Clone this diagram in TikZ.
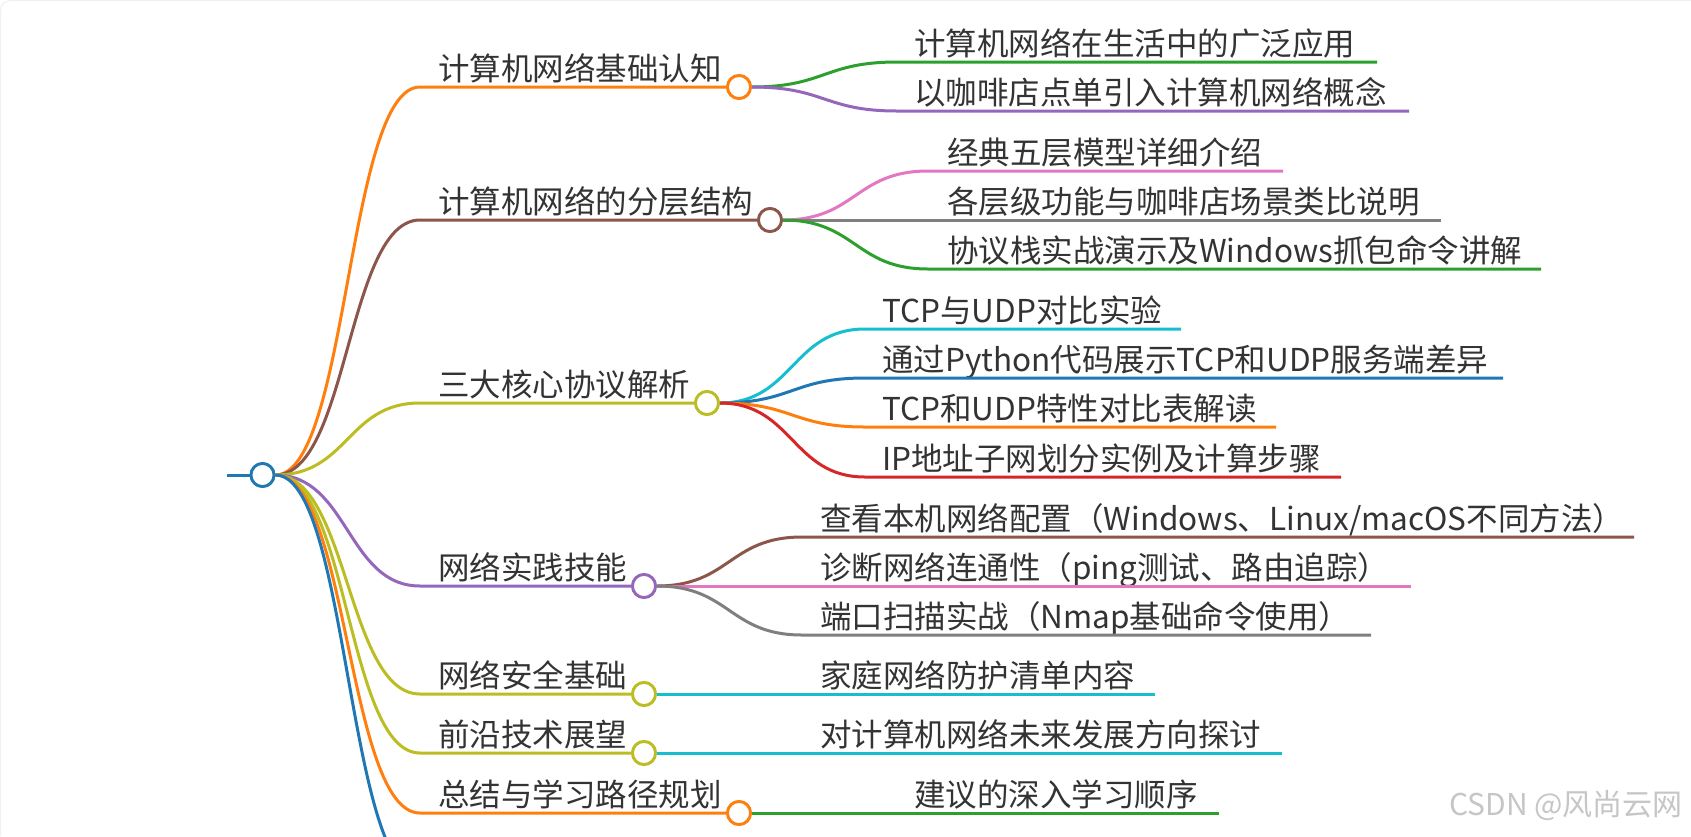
\documentclass[tikz,border=0pt]{standalone}
\usepackage{fontspec}
\setmainfont{Noto Sans CJK SC}
\usepackage{tikz}
\usetikzlibrary{positioning}
\definecolor{mBlue}{HTML}{1F77B4}
\definecolor{mOrange}{HTML}{FF7F0E}
\definecolor{mGreen}{HTML}{2CA02C}
\definecolor{mRed}{HTML}{D62728}
\definecolor{mPurple}{HTML}{9467BD}
\definecolor{mBrown}{HTML}{8C564B}
\definecolor{mPink}{HTML}{E377C2}
\definecolor{mGray}{HTML}{7F7F7F}
\definecolor{mOlive}{HTML}{BCBD22}
\definecolor{mCyan}{HTML}{17BECF}
\definecolor{mText}{HTML}{333333}

\tikzset{
  dot/.style={circle, draw=#1, fill=white, line width=2.8pt, minimum size=23pt, inner sep=0pt},
  branch/.style={draw=#1, line width=3pt},
  link/.style={out=0, in=180, distance=73pt},
  topic/.style={anchor=base west, inner sep=0pt, text=mText, font=\fontsize{31.5}{36}\selectfont},
}

\begin{document}
\begin{tikzpicture}[x=1pt, y=-1pt]
    \useasboundingbox (0,0) rectangle (1691,836);
    \fill[white] (0,0) rectangle (1691,836);
    \clip (0,0) rectangle (1691,836);
    \draw[gray!12, line width=1pt, rounded corners=10pt] (0.5,836) |- (1691,0.5);
    % --- root ---
    \node[dot=mBlue] (root) at (262.5,475) {};
    \coordinate (root-in) at (227,475);
    \draw[branch=mBlue] (root-in) -- (root.west);
    % --- level 1: topics ---
    \coordinate (basic-s) at (420,87);
    \node[dot=mOrange] (basic) at (739,87) {};
    \node[above right=7pt and 18pt of basic-s, topic] {计算机网络基础认知};
    \coordinate (layer-s) at (420,220);
    \node[dot=mBrown] (layer) at (770,220) {};
    \node[above right=7pt and 18pt of layer-s, topic] {计算机网络的分层结构};
    \coordinate (proto-s) at (420,403);
    \node[dot=mOlive] (proto) at (707,403) {};
    \node[above right=7pt and 18pt of proto-s, topic] {三大核心协议解析};
    \coordinate (practice-s) at (420,586);
    \node[dot=mPurple] (practice) at (644,586) {};
    \node[above right=7pt and 18pt of practice-s, topic] {网络实践技能};
    \coordinate (secure-s) at (420,694);
    \node[dot=mOlive] (secure) at (644,694) {};
    \node[above right=7pt and 18pt of secure-s, topic] {网络安全基础};
    \coordinate (future-s) at (420,753);
    \node[dot=mOlive] (future) at (644,753) {};
    \node[above right=7pt and 18pt of future-s, topic] {前沿技术展望};
    \coordinate (summary-s) at (420,813);
    \node[dot=mOrange] (summary) at (739,813) {};
    \node[above right=7pt and 18pt of summary-s, topic] {总结与学习路径规划};
    \coordinate (more-s) at (420,876);
    % --- root links ---
    \draw[branch=mOrange] (root.east) to[link] (basic-s) -- (basic.west);
    \draw[branch=mBrown] (root.east) to[link] (layer-s) -- (layer.west);
    \draw[branch=mOlive] (root.east) to[link] (proto-s) -- (proto.west);
    \draw[branch=mPurple] (root.east) to[link] (practice-s) -- (practice.west);
    \draw[branch=mOlive] (root.east) to[link] (secure-s) -- (secure.west);
    \draw[branch=mOlive] (root.east) to[link] (future-s) -- (future.west);
    \draw[branch=mOrange] (root.east) to[link] (summary-s) -- (summary.west);
    \draw[branch=mBlue] (root.east) to[link] (more-s);
    % --- basic: leaves ---
    \coordinate (basic-a) at (897,62);   \coordinate (basic-a-e) at (1377,62);
    \coordinate (basic-b) at (897,111);  \coordinate (basic-b-e) at (1409,111);
    \node[above right=7pt and 17pt of basic-a, topic] {计算机网络在生活中的广泛应用};
    \node[above right=7pt and 17pt of basic-b, topic] {以咖啡店点单引入计算机网络概念};
    \draw[branch=mGreen] (basic.east) to[link] (basic-a) -- (basic-a-e);
    \draw[branch=mPurple] (basic.east) to[link] (basic-b) -- (basic-b-e);
    % --- layer: leaves ---
    \coordinate (layer-a) at (928,171);  \coordinate (layer-a-e) at (1283,171);
    \coordinate (layer-b) at (928,220);  \coordinate (layer-b-e) at (1441,220);
    \coordinate (layer-c) at (928,269);  \coordinate (layer-c-e) at (1541,269);
    \node[above right=7pt and 19pt of layer-a, topic] {经典五层模型详细介绍};
    \node[above right=7pt and 19pt of layer-b, topic] {各层级功能与咖啡店场景类比说明};
    \node[above right=7pt and 19pt of layer-c, topic] {协议栈实战演示及Windows抓包命令讲解};
    \draw[branch=mPink] (layer.east) to[link] (layer-a) -- (layer-a-e);
    \draw[branch=mGray] (layer.east) to[link] (layer-b) -- (layer-b-e);
    \draw[branch=mGreen] (layer.east) to[link] (layer-c) -- (layer-c-e);
    % --- proto: leaves ---
    \coordinate (proto-a) at (865,329);  \coordinate (proto-a-e) at (1181,329);
    \coordinate (proto-b) at (865,378);  \coordinate (proto-b-e) at (1503,378);
    \coordinate (proto-c) at (865,427);  \coordinate (proto-c-e) at (1276,427);
    \coordinate (proto-d) at (865,477);  \coordinate (proto-d-e) at (1341,477);
    \node[above right=7pt and 17pt of proto-a, topic] {TCP与UDP对比实验};
    \node[above right=7pt and 17pt of proto-b, topic] {通过Python代码展示TCP和UDP服务端差异};
    \node[above right=7pt and 17pt of proto-c, topic] {TCP和UDP特性对比表解读};
    \node[above right=7pt and 17pt of proto-d, topic] {IP地址子网划分实例及计算步骤};
    \draw[branch=mCyan] (proto.east) to[link] (proto-a) -- (proto-a-e);
    \draw[branch=mBlue] (proto.east) to[link] (proto-b) -- (proto-b-e);
    \draw[branch=mOrange] (proto.east) to[link] (proto-c) -- (proto-c-e);
    \draw[branch=mRed] (proto.east) to[link] (proto-d) -- (proto-d-e);
    % --- practice: leaves ---
    \coordinate (practice-a) at (802,537);  \coordinate (practice-a-e) at (1634,537);
    \coordinate (practice-b) at (802,586);  \coordinate (practice-b-e) at (1411,586);
    \coordinate (practice-c) at (802,635);  \coordinate (practice-c-e) at (1371,635);
    \node[above right=7pt and 18pt of practice-a, topic] {查看本机网络配置（Windows、Linux/macOS不同方法）};
    \node[above right=7pt and 18pt of practice-b, topic] {诊断网络连通性（ping测试、路由追踪）};
    \node[above right=7pt and 18pt of practice-c, topic] {端口扫描实战（Nmap基础命令使用）};
    \draw[branch=mBrown] (practice.east) to[link] (practice-a) -- (practice-a-e);
    \draw[branch=mPink] (practice.east) to[link] (practice-b) -- (practice-b-e);
    \draw[branch=mGray] (practice.east) to[link] (practice-c) -- (practice-c-e);
    % --- single leaves ---
    \coordinate (secure-a) at (802,694);   \coordinate (secure-a-e) at (1155,694);
    \coordinate (future-a) at (802,753);   \coordinate (future-a-e) at (1282,753);
    \coordinate (summary-a) at (897,813);  \coordinate (summary-a-e) at (1219,813);
    \node[above right=7pt and 18pt of secure-a, topic] {家庭网络防护清单内容};
    \node[above right=7pt and 18pt of future-a, topic] {对计算机网络未来发展方向探讨};
    \node[above right=7pt and 17pt of summary-a, topic] {建议的深入学习顺序};
    \draw[branch=mCyan] (secure.east) -- (secure-a-e);
    \draw[branch=mCyan] (future.east) -- (future-a-e);
    \draw[branch=mGreen] (summary.east) -- (summary-a-e);
    % --- redraw circles on top ---
    \foreach \n/\c in {root/mBlue, basic/mOrange, layer/mBrown, proto/mOlive, practice/mPurple,
                       secure/mOlive, future/mOlive, summary/mOrange}
      \draw[\c, fill=white, line width=2.8pt] (\n) circle (11.5pt);
    % --- watermark ---
    \node[anchor=base east, inner sep=0pt, text=gray!45, font=\fontsize{30}{36}\selectfont]
      (mark) at (1683,815) {CSDN @风尚云网};
\end{tikzpicture}
\end{document}
